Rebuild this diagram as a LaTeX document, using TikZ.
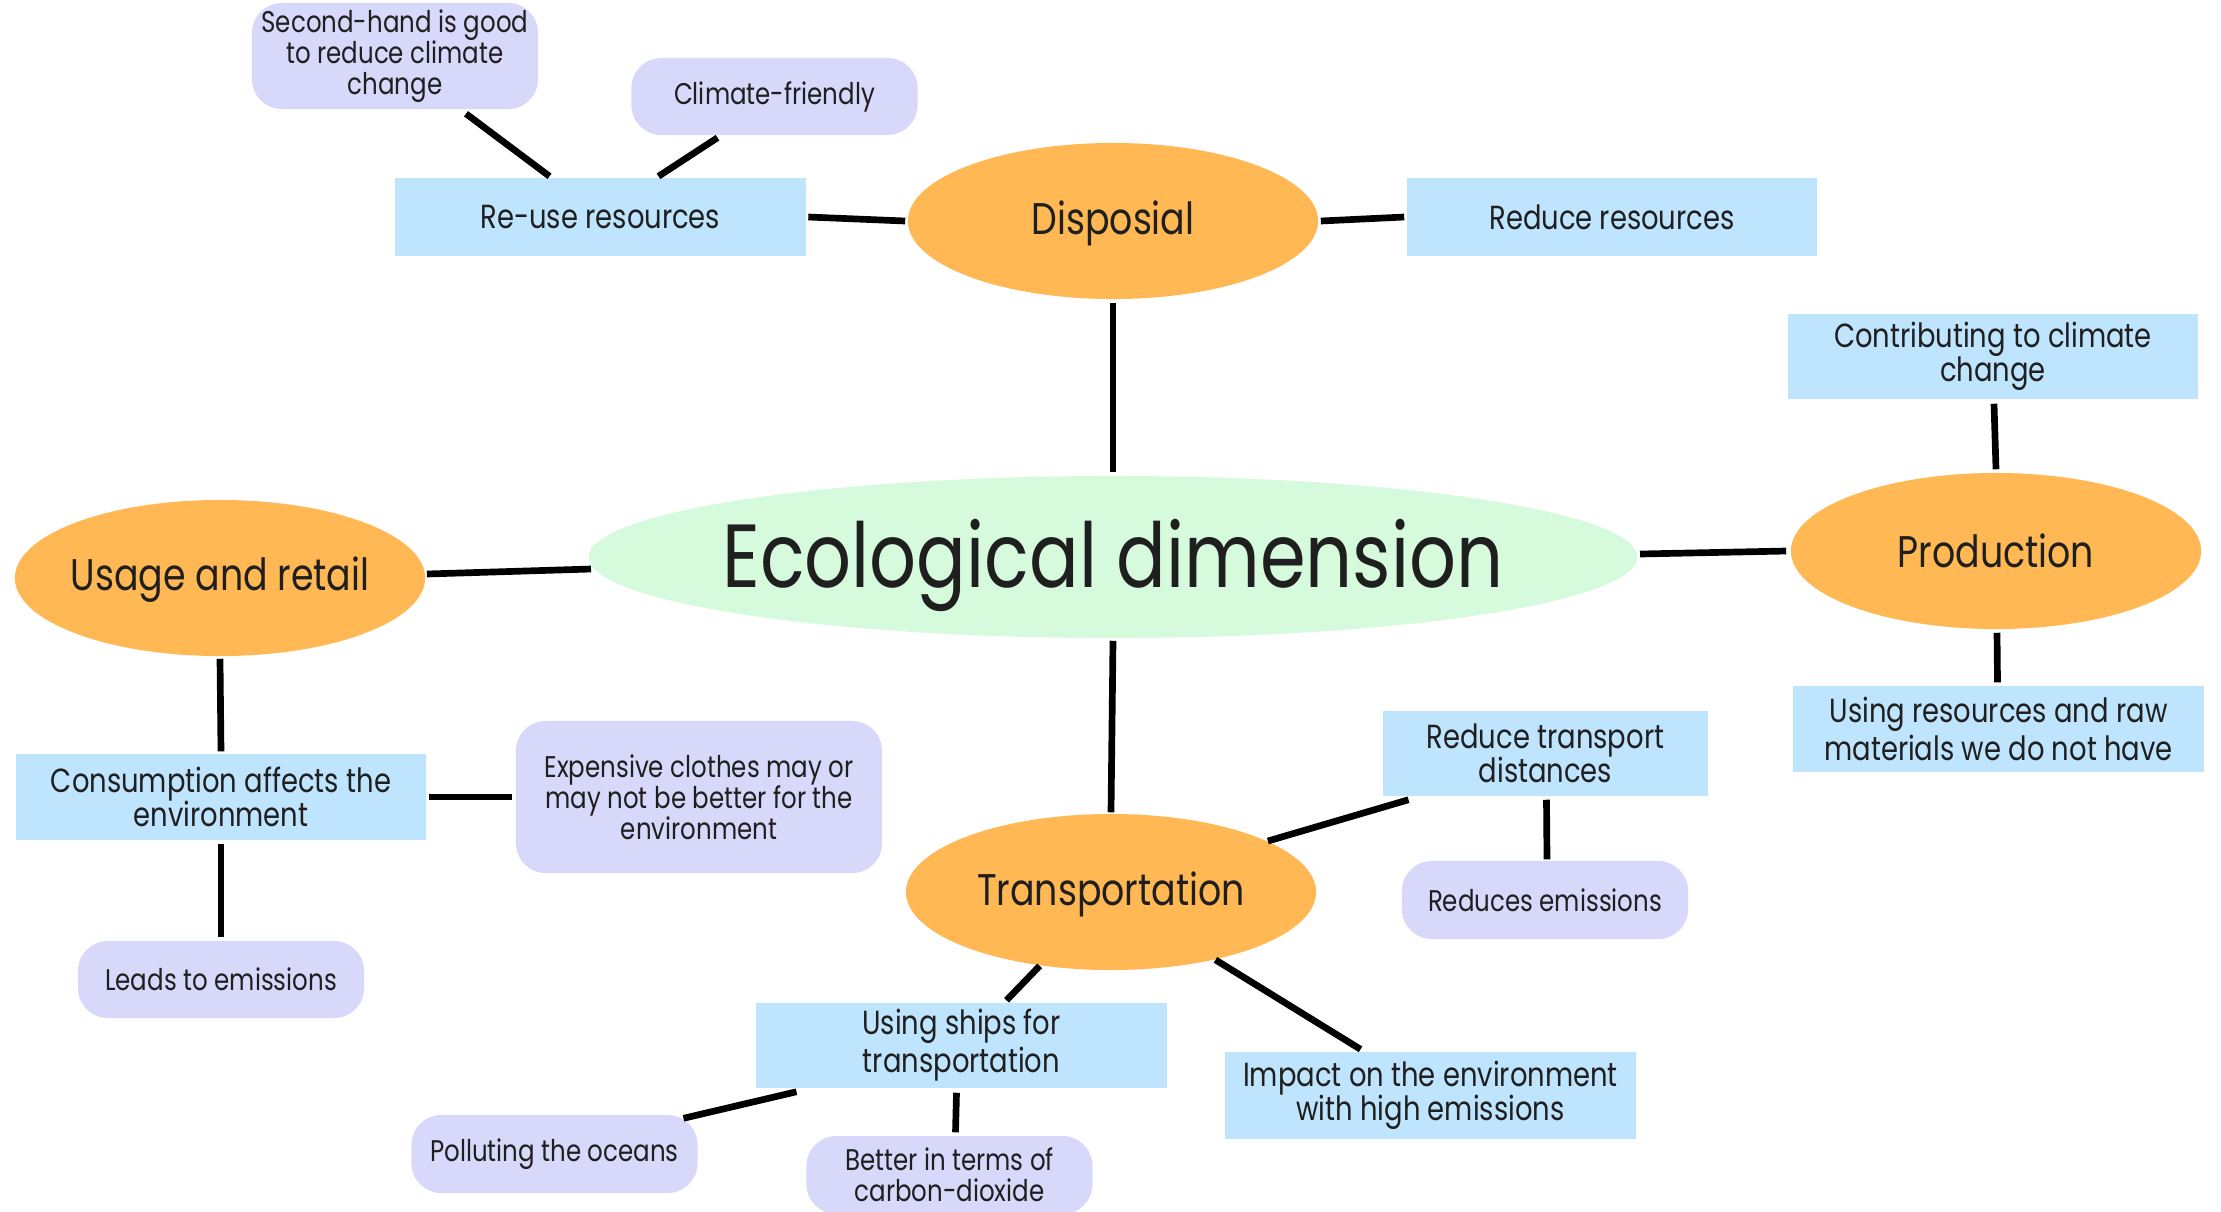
\documentclass[tikz,border=0pt]{standalone}
\usepackage{fontspec}
\setmainfont{Poppins}[FakeStretch=0.82]
\usetikzlibrary{shapes.geometric,calc}
\definecolor{orangeC}{HTML}{FFB853}
\definecolor{blueC}{HTML}{BFE4FD}
\definecolor{lavC}{HTML}{D8D8FB}
\definecolor{greenC}{HTML}{D6FBDC}
\definecolor{txtC}{HTML}{1F1F1F}
\begin{document}
\begin{tikzpicture}[x=0.01cm,y=-0.01cm,
  every node/.style={text=txtC, inner sep=0pt, align=center},
  hub/.style={ellipse, fill=orangeC, minimum width=4.1cm, minimum height=1.56cm},
  hubtext/.style={font=\fontsize{12.6}{14}\selectfont, yshift=-0.02cm},
  bluebox/.style={rectangle, fill=blueC, minimum width=4.1cm, minimum height=0.85cm, font=\fontsize{9.5}{9.7}\selectfont},
  pill/.style={rectangle, rounded corners=0.3cm, fill=lavC, minimum width=2.86cm, minimum height=0.78cm, font=\fontsize{8.5}{8.8}\selectfont},
  link/.style={draw=black, line width=1.9pt}]
\useasboundingbox (0,0) rectangle (2221,1211);
\clip (0,0) rectangle (2221,1211);
\fill[white] (0,0) rectangle (2221,1211);

% central
\node[ellipse, fill=greenC, minimum width=10.48cm, minimum height=1.62cm] (central) at (1113,557) {};
\node[font=\fontsize{25.5}{28}\selectfont, yshift=-0.08cm] (centralT) at (central.center) {Ecological dimension};

% hubs
\node[hub] (disp) at (1113,221) {};
\node[hubtext] (dispT) at (disp.center) {Disposial};
\node[hub] (prod) at (1996,551) {};
\node[hubtext, yshift=-0.02cm] (prodT) at ($(prod.center)+(0,-4)$) {Production};
\node[hub] (usage) at (220,578) {};
\node[hubtext] (usageT) at (usage.center) {Usage and retail};
\node[hub] (trans) at (1111,892) {};
\node[hubtext] (transT) at (trans.center) {Transportation};

% blue boxes
\node[bluebox, minimum height=0.78cm] (reuse) at (600.5,217) {Re-use resources};
\node[bluebox, minimum height=0.78cm] (redres) at (1612,217) {Reduce resources};
\node[bluebox] (contrib) at (1993,356.5) {Contributing to climate\\change};
\node[bluebox, minimum height=0.86cm] (usingres) at (1998.5,729) {Using resources and raw\\materials we do not have};
\node[bluebox, minimum height=0.86cm] (consum) at (221,797) {Consumption affects the\\environment};
\node[bluebox, minimum width=3.25cm] (rtd) at (1545.5,753.5) {Reduce transport\\distances};
\node[bluebox] (ships) at (961.5,1045.5) {Using ships for\\transportation};
\node[bluebox, minimum height=0.87cm] (impact) at (1430.5,1095.5) {Impact on the environment\\with high emissions};

% lavender pills
\node[pill, minimum height=1.06cm] (second) at (395,56) {Second-hand is good\\to reduce climate\\change};
\node[pill, minimum height=0.77cm] (climf) at (774.5,96.5) {Climate-friendly};
\node[pill, minimum width=3.66cm, minimum height=1.52cm] (expens) at (699,797) {Expensive clothes may or\\may not be better for the\\environment};
\node[pill, minimum height=0.77cm] (leads) at (221,979.5) {Leads to emissions};
\node[pill] (redem) at (1545,900) {Reduces emissions};
\node[pill] (pollut) at (554.5,1154) {Polluting the oceans};
\node[pill] (better) at (949.5,1175) {Better in terms of\\carbon-dioxide};

% connectors
\draw[link] ($(disp.south)+(0,3)$) -- ($(central.north)+(0,-3)$);
\draw[link] ($(reuse.east)+(2,0)$) -- ($(disp.west)+(-2,0)$);
\draw[link] ($(disp.east)+(2,0)$) -- ($(redres.west)+(-2,0)$);
\draw[link] ($(second.south)+(71,4)$) -- ($(reuse.north)+(-51,-1)$);
\draw[link] ($(climf.south)+(-57,2)$) -- ($(reuse.north)+(58,-1)$);
\draw[link] ($(central.east)+(2,-3)$) -- ($(prod.west)+(-4,0)$);
\draw[link] ($(contrib.south)+(1,4)$) -- ($(prod.north)+(0,-3)$);
\draw[link] ($(prod.south)+(1,3)$) -- ($(usingres.north)+(-1,-3)$);
\draw[link] ($(usage.east)+(1,-4)$) -- ($(central.west)+(3,12)$);
\draw[link] ($(usage.south)+(0,2)$) -- ($(consum.north)+(0,-2)$);
\draw[link] ($(consum.east)+(2,0)$) -- ($(expens.west)+(-3,0)$);
\draw[link] ($(consum.south)+(0,3)$) -- ($(leads.north)+(0,-3)$);
\draw[link] ($(central.south)+(0,2)$) -- ($(trans.north)+(0,-1)$);
\draw[link] (trans.18) -- ($(rtd.south)+(-137,3)$);
\draw[link] ($(rtd.south)+(1,3)$) -- ($(redem.north)+(2,-1)$);
\draw[link] (trans.-134) -- ($(ships.north)+(45,-2)$);
\draw[link] (trans.-33) -- ($(impact.north)+(-70,-2)$);
\draw[link] ($(ships.south)+(-165,3)$) -- ($(pollut.north)+(129,4)$);
\draw[link] ($(ships.south)+(-5,4)$) -- ($(better.north)+(6,-3)$);
\end{tikzpicture}
\end{document}
